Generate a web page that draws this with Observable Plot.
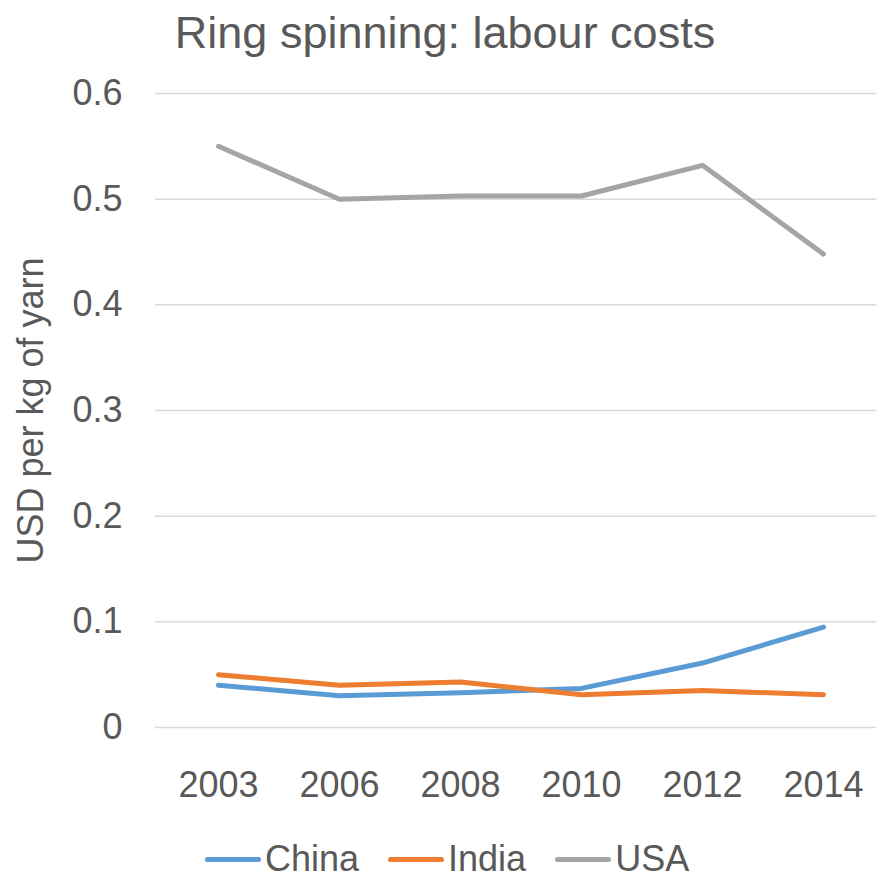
<!DOCTYPE html>
<html>
<head>
<meta charset="utf-8">
<script src="https://cdn.jsdelivr.net/npm/d3@7"></script>
<script src="https://cdn.jsdelivr.net/npm/@observablehq/plot@0.6"></script>
<style>
  html, body { margin: 0; padding: 0; background: #fff; }
  body {
    position: relative; width: 876px; height: 879px; overflow: hidden;
    font-family: "Liberation Sans", Arial, Helvetica, sans-serif; color: #595959;
  }
  #title {
    position: absolute; left: 0; top: 10px; width: 876px; box-sizing: border-box;
    padding-left: 14px; text-align: center; font-size: 45px; line-height: 45px; white-space: nowrap;
  }
  #chart { position: absolute; left: 0; top: 60px; }
  #legend {
    position: absolute; left: 205px; top: 841px; font-size: 36px; line-height: 36px;
    white-space: nowrap; display: flex;
  }
  .item { display: inline-flex; align-items: baseline; margin-right: 29px; }
  .swatch {
    display: inline-block; width: 56px; height: 5px; border-radius: 3px;
    margin-right: 4px; position: relative; top: -9px;
  }
</style>
</head>
<body>
<div id="title">Ring spinning: labour costs</div>
<div id="chart"></div>
<div id="legend"></div>
<script>
// Labour cost of ring spinning, USD per kg of yarn
const years = ["2003", "2006", "2008", "2010", "2012", "2014"];
const china = [0.040, 0.030, 0.033, 0.037, 0.061, 0.095];
const india = [0.050, 0.040, 0.043, 0.031, 0.035, 0.031];
const usa   = [0.550, 0.500, 0.503, 0.503, 0.532, 0.448];

const seriesNames = ["China", "India", "USA"];
const seriesColors = ["#5B9BD5", "#ED7D31", "#A5A5A5"];
const yTicks = [0, 0.1, 0.2, 0.3, 0.4, 0.5, 0.6];
const yLabel = "USD per kg of yarn";

const seriesValues = [china, india, usa];
const rows = seriesNames.flatMap((name, i) =>
  seriesValues[i].map((value, j) => ({series: name, year: years[j], value}))
);

const chart = Plot.plot({
  width: 876,
  height: 760,
  marginLeft: 155,
  marginRight: 0,
  marginTop: 33,
  marginBottom: 93,
  style: {
    fontFamily: "'Liberation Sans', Arial, Helvetica, sans-serif",
    fontSize: "36px",
    color: "#595959",
    background: "#fff",
    overflow: "visible"
  },
  x: {type: "point", domain: years, range: [217, 824], padding: 0, label: null},
  y: {domain: [0, 0.6], label: yLabel},
  color: {domain: seriesNames, range: seriesColors},
  marks: [
    Plot.ruleY(yTicks, {stroke: "#D9D9D9", strokeWidth: 1.5}),
    Plot.axisY({
      ticks: yTicks,
      tickSize: 0,
      tickPadding: 33,
      tickFormat: d => d === 0 ? "0" : d.toFixed(1),
      label: yLabel,
      labelAnchor: "center",
      labelArrow: "none",
      labelOffset: 138
    }),
    Plot.axisX({tickSize: 0, tickPadding: 44, label: null}),
    Plot.line(rows, {
      x: "year", y: "value", z: "series", stroke: "series",
      strokeWidth: 5, strokeLinecap: "round", strokeLinejoin: "round"
    })
  ]
});
document.getElementById("chart").appendChild(chart);

// Legend below the chart
const legend = document.getElementById("legend");
seriesNames.forEach((name, i) => {
  const item = document.createElement("span");
  item.className = "item";
  const sw = document.createElement("span");
  sw.className = "swatch";
  sw.style.background = seriesColors[i];
  item.appendChild(sw);
  item.appendChild(document.createTextNode(name));
  legend.appendChild(item);
});
</script>
</body>
</html>
